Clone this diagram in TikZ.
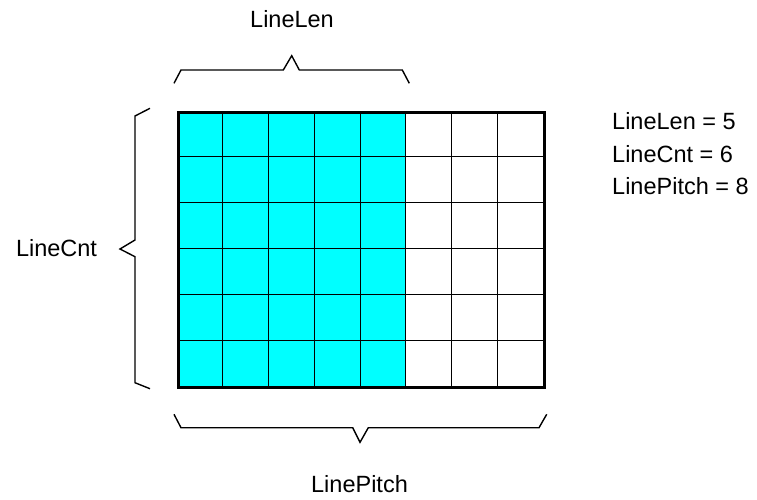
\documentclass[tikz,border=0pt]{standalone}
\usepackage{fontspec}
\setmainfont{Liberation Sans}
\usetikzlibrary{positioning, calc}
\definecolor{cellcyan}{RGB}{0, 255, 255}

\begin{document}
\begin{tikzpicture}[
    x=1pt, y=-1pt,
    cell/.style={draw=black, line width=0.8pt},
    brace/.style={draw=black, line width=1.4pt, line join=miter},
    label/.style={font=\fontsize{23.5}{28}\selectfont, inner sep=0pt, text height=16.8pt, text depth=0pt}
]
    \useasboundingbox (0,0) rectangle (757,499);

    % Cells: LineLen = 5 of LinePitch = 8, LineCnt = 6 rows
    \foreach \c in {0,...,7} {
        \foreach \r in {0,...,5} {
            \ifnum\c<5
                \filldraw[cell, fill=cellcyan] ({177+45.75*\c},{111+45.83*\r}) rectangle ++(45.75,45.83);
            \else
                \draw[cell] ({177+45.75*\c},{111+45.83*\r}) rectangle ++(45.75,45.83);
            \fi
        }
    }
    \node[draw=black, line width=3pt, minimum width=366pt, minimum height=275pt,
          inner sep=0pt, anchor=north west] (grid) at (177,111) {};

    % Braces
    \draw[brace] (174,83.3) -- (181,70) -- (283.3,70) -- (291.7,55.7) -- (299.3,70) -- (402.3,70) -- (409.3,83.3);
    \draw[brace] (150,108.3) -- (135,116) -- (135,240) -- (120,249) -- (135,256.7) -- (135,382.7) -- (150,388.7);
    \draw[brace] (174,414.3) -- (181,427.7) -- (352.7,427.7) -- (360,442.3) -- (368.3,427.7) -- (539,427.7) -- (546.7,414.3);

    % Labels
    \node[label] (lenlabel) at (292,19) {LineLen};
    \node[label] (cntlabel) at (56.5,248) {LineCnt};
    \node[label] (pitchlabel) at (359.5,484.5) {LinePitch};
    \node[label, anchor=west] (lenvalue) at (612,120.7) {LineLen = 5};
    \node[label, below=15.7pt of lenvalue.south west, anchor=north west] (cntvalue) {LineCnt = 6};
    \node[label, below=15.7pt of cntvalue.south west, anchor=north west] (pitchvalue) {LinePitch = 8};
\end{tikzpicture}
\end{document}
